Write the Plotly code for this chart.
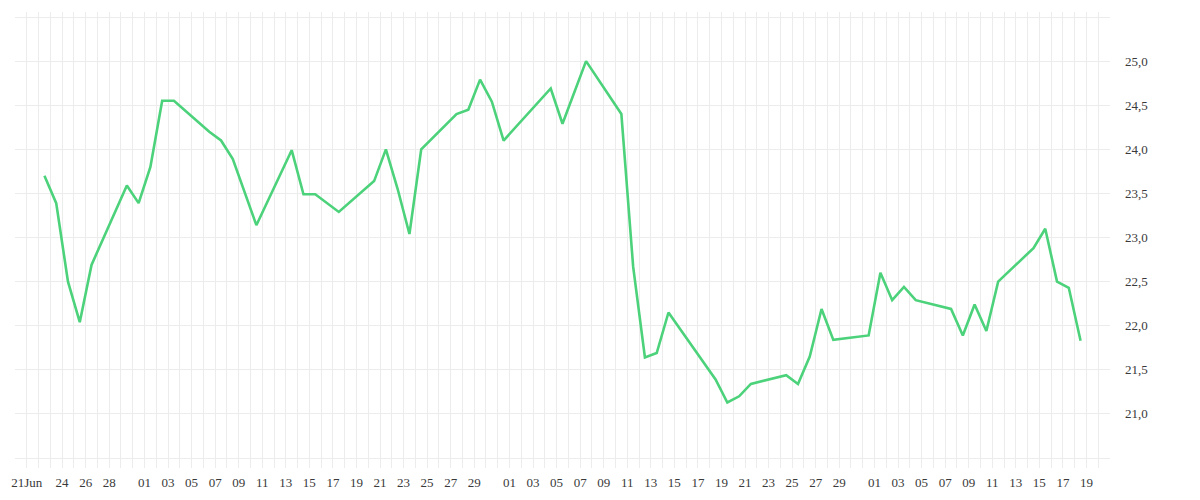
import pandas as pd
import plotly.graph_objects as go

# Дневные значения (торговые дни, 2020)
dates = [
    "2020-06-22", "2020-06-23", "2020-06-24", "2020-06-25", "2020-06-26",
    "2020-06-29", "2020-06-30", "2020-07-01", "2020-07-02", "2020-07-03",
    "2020-07-06", "2020-07-07", "2020-07-08", "2020-07-10", "2020-07-13",
    "2020-07-14", "2020-07-15", "2020-07-17", "2020-07-20", "2020-07-21",
    "2020-07-22", "2020-07-23", "2020-07-24", "2020-07-27", "2020-07-28",
    "2020-07-29", "2020-07-30", "2020-07-31", "2020-08-04", "2020-08-05",
    "2020-08-07", "2020-08-10", "2020-08-11", "2020-08-12", "2020-08-13",
    "2020-08-14", "2020-08-18", "2020-08-19", "2020-08-20", "2020-08-21",
    "2020-08-24", "2020-08-25", "2020-08-26", "2020-08-27", "2020-08-28",
    "2020-08-31", "2020-09-01", "2020-09-02", "2020-09-03", "2020-09-04",
    "2020-09-07", "2020-09-08", "2020-09-09", "2020-09-10", "2020-09-11",
    "2020-09-14", "2020-09-15", "2020-09-16", "2020-09-17", "2020-09-18",
]
values = [
    23.70, 23.39, 22.50, 22.04, 22.69,
    23.59, 23.39, 23.80, 24.55, 24.55,
    24.20, 24.10, 23.89, 23.14, 23.99,
    23.49, 23.49, 23.29, 23.64, 24.00,
    23.55, 23.04, 24.00, 24.40, 24.45,
    24.79, 24.54, 24.10, 24.69, 24.29,
    25.00, 24.40, 22.67, 21.64, 21.69,
    22.15, 21.39, 21.13, 21.20, 21.34,
    21.44, 21.34, 21.65, 22.19, 21.84,
    21.89, 22.60, 22.29, 22.44, 22.29,
    22.19, 21.89, 22.24, 21.94, 22.50,
    22.88, 23.10, 22.50, 22.43, 21.83,
]

# Подписи оси X
tick_dates = [
    "2020-06-21", "2020-06-24", "2020-06-26", "2020-06-28",
    "2020-07-01", "2020-07-03", "2020-07-05", "2020-07-07", "2020-07-09",
    "2020-07-11", "2020-07-13", "2020-07-15", "2020-07-17", "2020-07-19",
    "2020-07-21", "2020-07-23", "2020-07-25", "2020-07-27", "2020-07-29",
    "2020-08-01", "2020-08-03", "2020-08-05", "2020-08-07", "2020-08-09",
    "2020-08-11", "2020-08-13", "2020-08-15", "2020-08-17", "2020-08-19",
    "2020-08-21", "2020-08-23", "2020-08-25", "2020-08-27", "2020-08-29",
    "2020-09-01", "2020-09-03", "2020-09-05", "2020-09-07", "2020-09-09",
    "2020-09-11", "2020-09-13", "2020-09-15", "2020-09-17", "2020-09-19",
]
tick_text = ["21Jun"] + [d[-2:] for d in tick_dates[1:]]

y_ticks = [21.0, 21.5, 22.0, 22.5, 23.0, 23.5, 24.0, 24.5, 25.0]

GRID = "#ececec"
FONT = dict(family="Liberation Serif", size=13, color="#3a3a3a")

# точки стоят в середине дня
x = pd.to_datetime(dates) + pd.Timedelta(hours=12)

fig = go.Figure()
fig.add_trace(go.Scatter(
    x=x, y=values,
    mode="lines",
    line=dict(color="#4cd27a", width=2.6),
    hoverinfo="x+y",
))

# страница имеет отступ 8px, поэтому поля уменьшены;
# ось Y вынесена правее области графика (position=1)
fig.update_layout(
    width=1200, height=500,
    margin=dict(l=7, r=84, t=4, b=40),
    paper_bgcolor="white",
    plot_bgcolor="white",
    separators=", ",
    showlegend=False,
    font=FONT,
)

fig.update_xaxes(
    type="date",
    domain=[0, 0.98738],
    range=["2020-06-20", "2020-09-21"],
    tickmode="array",
    tickvals=tick_dates,
    ticktext=tick_text,
    showgrid=True, gridcolor=GRID, gridwidth=1,
    minor=dict(dtick=86400000, tick0="2020-06-20",
               showgrid=True, gridcolor=GRID, gridwidth=1),
    zeroline=False, showline=False,
    ticks="", ticklabelstandoff=5,
    tickfont=FONT,
    automargin=False,
)

fig.update_yaxes(
    side="right",
    anchor="free", position=1,
    range=[20.387, 25.557],
    tickmode="array",
    tickvals=y_ticks,
    tickformat=".1f",
    showgrid=True, gridcolor=GRID, gridwidth=1,
    minor=dict(dtick=0.5, tick0=0, showgrid=True, gridcolor=GRID, gridwidth=1),
    zeroline=False, showline=False,
    ticks="",
    tickfont=FONT,
    automargin=False,
)

fig.write_html("out.html")
